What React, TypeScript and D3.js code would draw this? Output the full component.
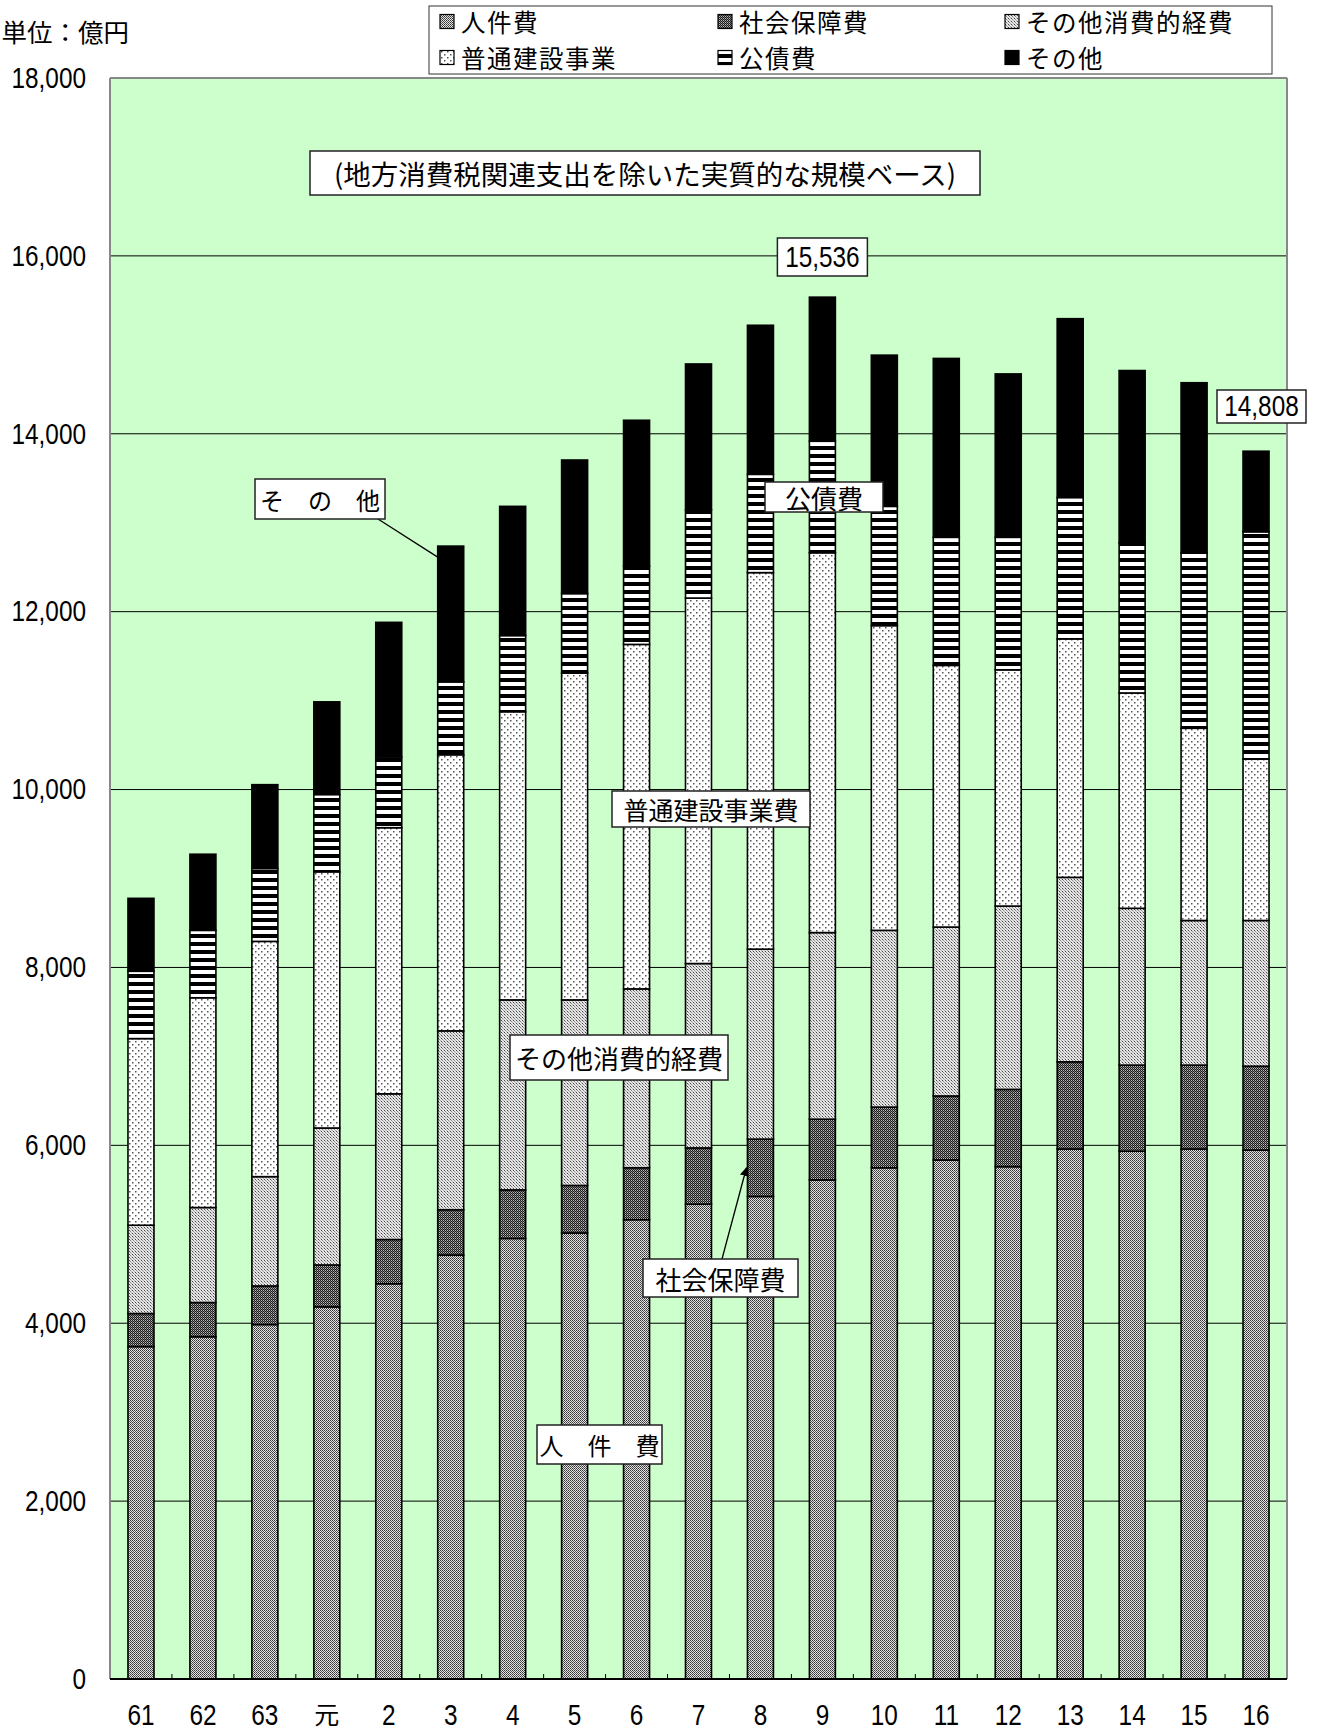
import React from "react";
import * as d3 from "d3";

const categories = ["61", "62", "63", "元", "2", "3", "4", "5", "6", "7", "8", "9", "10", "11", "12", "13", "14", "15", "16"];
const personnel = [3737, 3848, 3985, 4184, 4444, 4767, 4953, 5015, 5164, 5338, 5425, 5611, 5748, 5835, 5760, 5959, 5934, 5959, 5946];
const socialSecurity = [372, 385, 434, 471, 497, 509, 546, 534, 584, 633, 645, 683, 682, 720, 869, 980, 968, 943, 944];
const otherConsumption = [993, 1068, 1229, 1540, 1638, 2011, 2136, 2086, 2011, 2073, 2136, 2098, 1987, 1899, 2061, 2074, 1763, 1626, 1638];
const construction = [2098, 2358, 2645, 2880, 2992, 3104, 3240, 3674, 3873, 4109, 4233, 4270, 3426, 2942, 2656, 2681, 2421, 2161, 1813];
const debtService = [757, 758, 819, 869, 795, 819, 856, 894, 881, 993, 1105, 1254, 1341, 1440, 1490, 1589, 1688, 1973, 2557];
const others = [820, 856, 943, 1042, 1514, 1527, 1453, 1502, 1639, 1639, 1676, 1620, 1700, 2011, 1837, 2011, 1937, 1912, 906];
const seriesKeys = ["personnel", "social", "otherCons", "construction", "debt", "others"];
const legendNames = ["人件費", "社会保障費", "その他消費的経費", "普通建設事業", "公債費", "その他"];
const legendSeries = [0, 1, 2, 3, 4, 5];
const yTicks = [0, 2000, 4000, 6000, 8000, 10000, 12000, 14000, 16000, 18000];
const valueLabels = ["15,536", "14,808"];

const NUM_FONT = "'Liberation Sans', Arial, sans-serif";
const JP_FONT = "'Noto Sans CJK JP', 'Noto Sans', sans-serif";
const NUM_SIZE = 29;
const NUM_SCALE = 0.84;

function NumText({ x, y, anchor, children }: { x: number; y: number; anchor: string; children: any }) {
  return (
    <text transform={`translate(${x},${y}) scale(${NUM_SCALE},1)`} textAnchor={anchor} dominantBaseline="central"
      fontFamily={NUM_FONT} fontSize={NUM_SIZE} fill="#000">{children}</text>
  );
}

export default function App() {
  const W = 1321, H = 1731;
  const left = 110, right = 1287, top = 78, bottom = 1679;
  const rows = categories.map((c, i) => ({
    cat: c,
    personnel: personnel[i],
    social: socialSecurity[i],
    otherCons: otherConsumption[i],
    construction: construction[i],
    debt: debtService[i],
    others: others[i],
  }));
  const stacked = d3.stack<any>().keys(seriesKeys)(rows);
  const x = d3.scaleBand<string>().domain(categories).range([left, right]).padding(0);
  const y = d3.scaleLinear().domain([0, 18000]).range([bottom, top]);
  const step = x.step();
  const bw = 26;
  const barX = (c: string) => (x(c) as number) + step / 2 - bw / 2;
  const fills = ["url(#pPers)", "url(#pSoc)", "url(#pOth)", "url(#pCon)", "url(#pDebt)", "#000"];
  const fmt = d3.format(",");

  const totals = rows.map((r, i) => stacked[5][i][1]);
  const i3 = categories.indexOf("3");
  const i8 = categories.indexOf("8");
  const i9 = categories.indexOf("9");

  const legendCols = [440, 718, 1005];
  const legendRows = [21.5, 57.5];

  const box = (x0: number, y0: number, x1: number, y1: number, text: string, fs: number, key: string) => (
    <g key={key}>
      <rect x={x0} y={y0} width={x1 - x0} height={y1 - y0} fill="#fff" stroke="#222" strokeWidth={1.5} />
      <text x={(x0 + x1) / 2} y={(y0 + y1) / 2} textAnchor="middle" dominantBaseline="central" fontFamily={JP_FONT} fontSize={fs} fill="#000">{text}</text>
    </g>
  );
  const numBox = (x0: number, y0: number, x1: number, y1: number, text: string, key: string) => (
    <g key={key}>
      <rect x={x0} y={y0} width={x1 - x0} height={y1 - y0} fill="#fff" stroke="#222" strokeWidth={1.5} />
      <NumText x={(x0 + x1) / 2} y={(y0 + y1) / 2} anchor="middle">{text}</NumText>
    </g>
  );

  return (
    <svg width={W} height={H} style={{ position: "absolute", left: 0, top: 0, background: "#fff" }}>
      <defs>
        <pattern id="pPers" width="2" height="2" patternUnits="userSpaceOnUse">
          <rect width="2" height="2" fill="#e4e4e4" />
          <rect x="0" y="0" width="1" height="1" fill="#333" />
          <rect x="1" y="1" width="1" height="1" fill="#555" />
        </pattern>
        <pattern id="pSoc" width="2" height="2" patternUnits="userSpaceOnUse">
          <rect width="2" height="2" fill="#1a1a1a" />
          <rect x="1" y="0" width="1" height="1" fill="#bbb" />
          <rect x="0" y="1" width="1" height="1" fill="#777" />
        </pattern>
        <pattern id="pOth" width="3" height="3" patternUnits="userSpaceOnUse">
          <rect width="3" height="3" fill="#e6e6e6" />
          <rect x="0" y="0" width="1" height="1" fill="#444" />
          <rect x="1" y="1" width="1" height="1" fill="#888" />
          <rect x="2" y="2" width="1" height="1" fill="#aaa" />
        </pattern>
        <pattern id="pCon" width="6" height="6" patternUnits="userSpaceOnUse">
          <rect width="6" height="6" fill="#fff" />
          <rect x="0" y="0" width="1.5" height="1.5" fill="#555" />
          <rect x="3" y="3" width="1.5" height="1.5" fill="#555" />
        </pattern>
        <pattern id="pDebt" width="8" height="8" patternUnits="userSpaceOnUse">
          <rect width="8" height="8" fill="#000" />
          <rect x="0" y="2" width="8" height="4" fill="#fff" />
        </pattern>
        <marker id="arrowHead" viewBox="0 0 10 10" refX="9" refY="5" markerWidth="9" markerHeight="9" orient="auto" markerUnits="userSpaceOnUse">
          <path d="M0,0 L10,5 L0,10 z" fill="#000" />
        </marker>
      </defs>

      {/* plot area */}
      <rect x={left} y={top} width={right - left} height={bottom - top} fill="#ccffcc" />
      {yTicks.filter((t) => t > 0 && t < 18000).map((t) => (
        <line key={t} x1={left} x2={right} y1={y(t)} y2={y(t)} stroke="#000" strokeWidth={1} />
      ))}
      <line x1={left} x2={right} y1={top} y2={top} stroke="#888" strokeWidth={2} />
      <line x1={left} x2={left} y1={top} y2={bottom} stroke="#888" strokeWidth={2} />
      <line x1={right} x2={right} y1={top} y2={bottom} stroke="#888" strokeWidth={2} />

      {/* bars */}
      {stacked.map((s, si) => (
        <g key={si}>
          {s.map((d, i) => (
            <rect key={i} x={barX(categories[i])} y={y(d[1])} width={bw} height={y(d[0]) - y(d[1])} fill={fills[si]} stroke="#000" strokeWidth={1.6} />
          ))}
        </g>
      ))}

      {/* x axis */}
      <line x1={left} x2={right} y1={bottom} y2={bottom} stroke="#000" strokeWidth={2} />
      {categories.slice(1).map((c) => (
        <line key={c} x1={x(c) as number} x2={x(c) as number} y1={bottom} y2={bottom - 5} stroke="#000" strokeWidth={1} />
      ))}
      {categories.map((c) =>
        c === "元" ? (
          <text key={c} x={(x(c) as number) + step / 2} y={1713} textAnchor="middle" dominantBaseline="central"
            fontFamily={JP_FONT} fontSize={25} fill="#000">{c}</text>
        ) : (
          <NumText key={c} x={(x(c) as number) + step / 2} y={1715} anchor="middle">{c}</NumText>
        )
      )}

      {/* y axis labels */}
      {yTicks.map((t) => (
        <NumText key={t} x={86} y={y(t)} anchor="end">{fmt(t)}</NumText>
      ))}
      <text x={129} y={30} textAnchor="end" dominantBaseline="central" fontFamily={JP_FONT} fontSize={25.5} fill="#000">単位：億円</text>

      {/* legend */}
      <rect x={429} y={6} width={843} height={68} fill="#fff" stroke="#333" strokeWidth={1} />
      {legendNames.map((n, i) => {
        const col = i % 3;
        const row = Math.floor(i / 3);
        const mx = legendCols[col];
        const my = legendRows[row];
        return (
          <g key={n}>
            <rect x={mx} y={my - 7} width={14} height={14} fill={fills[legendSeries[i]]} stroke="#000" strokeWidth={1.2} />
            <text x={mx + 21} y={my} dominantBaseline="central" fontFamily={JP_FONT} fontSize={24.5} letterSpacing={1.5} fill="#000">{n}</text>
          </g>
        );
      })}

      {/* title */}
      {box(310, 151, 980, 195, "(地方消費税関連支出を除いた実質的な規模ベース)", 27.5, "title")}

      {/* value labels */}
      {numBox(barX(categories[i9]) + bw / 2 - 45, 238, barX(categories[i9]) + bw / 2 + 45, 276, valueLabels[0], "v1")}
      {numBox(1217, 390, 1306, 423, valueLabels[1], "v2")}

      {/* annotations */}
      <line x1={378} y1={519} x2={barX(categories[i3])} y2={y(totals[i3]) + 11} stroke="#000" strokeWidth={1.3} />
      {box(255, 479, 385, 519, "そ　の　他", 24, "a1")}
      {box(765, 482, 883, 512, "公債費", 26, "a2")}
      {box(612, 791, 810, 827, "普通建設事業費", 25, "a3")}
      {box(510, 1035, 728, 1080, "その他消費的経費", 26, "a4")}
      <line x1={722} y1={1259} x2={barX(categories[i8]) - 1} y2={y((stacked[0][i8][1] + stacked[1][i8][1]) / 2)} stroke="#000" strokeWidth={1.3} markerEnd="url(#arrowHead)" />
      {box(643, 1259, 798, 1297, "社会保障費", 26, "a5")}
      {box(537, 1425, 662, 1464, "人　件　費", 24, "a6")}
    </svg>
  );
}
